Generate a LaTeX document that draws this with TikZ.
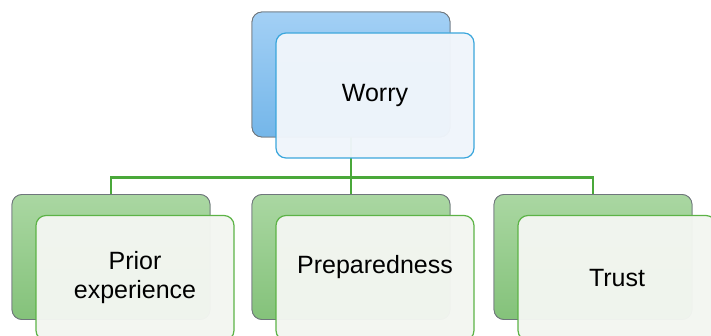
\documentclass[tikz,border=0pt]{standalone}
\usepackage{fontspec}
\setmainfont{Liberation Sans}
\usetikzlibrary{positioning}
\definecolor{blueedge}{HTML}{3AA6DC}
\definecolor{bluetop}{HTML}{A3D0F5}
\definecolor{bluebot}{HTML}{74B6E9}
\definecolor{bluepale}{HTML}{F0F5FB}
\definecolor{greenedge}{HTML}{5CB346}
\definecolor{greentop}{HTML}{AAD7A2}
\definecolor{greenbot}{HTML}{84C27A}
\definecolor{greenpale}{HTML}{F3F6F1}
\definecolor{wire}{HTML}{4AA83A}
\definecolor{rim}{HTML}{6F767C}
\begin{document}
\begin{tikzpicture}
[x=1pt,y=-1pt,%
  every node/.style={shape=rectangle,rounded corners=10pt,inner sep=0pt,
    minimum width=198pt,minimum height=125pt},%
  backbox/.style={draw=rim,line width=0.8pt,top color=#1top,bottom color=#1bot},%
  frontbox/.style={draw=#1edge,line width=1.2pt,fill=#1pale,fill opacity=0.97,
    text opacity=1,align=center,font=\fontsize{25}{29}\selectfont},%
  link/.style={draw=wire,line width=2.6pt}]
\clip (0,0) rectangle (711,336);
\node[backbox=blue] (worryback) at (351,74.5) {};
\node[backbox=green] (priorback) at (111,257) {};
\node[backbox=green] (prepback) at (351,257) {};
\node[backbox=green] (trustback) at (593,257) {};
\path[link] (worryback.south) -- ++(0,40) coordinate (split);
\path[link] (split) -| (priorback.north);
\path[link] (split) -| (trustback.north);
\path[link] (split) -- (prepback.north);
\node[backbox=blue] at (worryback) {};
\node[backbox=green] at (priorback) {};
\node[backbox=green] at (prepback) {};
\node[backbox=green] at (trustback) {};
\node[frontbox=blue,right=-175pt of worryback,yshift=-21pt] (worry) {Worry};
\node[frontbox=green,right=-175pt of priorback,yshift=-21pt] (prior) {Prior\\experience};
\node[frontbox=green,right=-175pt of prepback,yshift=-21pt] (prep) {Preparedness\\[-2pt]\mbox{}};
\node[frontbox=green,right=-175pt of trustback,yshift=-21pt] (trust) {Trust};
\end{tikzpicture}
\end{document}
